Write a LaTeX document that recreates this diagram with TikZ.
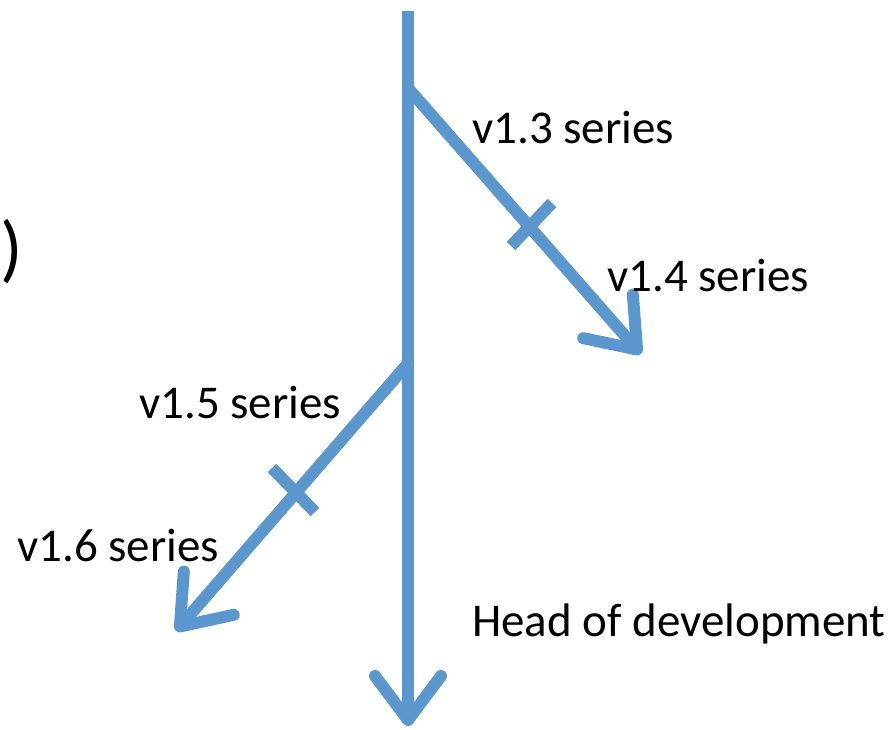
\documentclass[tikz,border=0pt]{standalone}
\usepackage{fontspec}
\setmainfont{Carlito}
\usetikzlibrary{arrows.meta,positioning}
\definecolor{branch}{RGB}{91,150,204}

\begin{document}
\begin{tikzpicture}[x=1pt, y=-1pt,
    line/.style={draw=branch, line width=12pt},
    arr/.style={line, -{Straight Barb[length=44pt, width=66pt, round]}},
    lbl/.style={anchor=west, inner sep=0pt, font=\fontsize{47}{52}\selectfont}]
      \useasboundingbox (0,0) rectangle (894,730);

      % trunk and forks
      \coordinate (top)   at (408,11);
      \coordinate (head)  at (408,726);
      \coordinate (fork1) at (407,87);
      \coordinate (end1)  at (641,354);
      \coordinate (fork2) at (410,361);
      \coordinate (end2)  at (176,631);

      % release ticks
      \coordinate (t1a) at (511,246);
      \coordinate (t1b) at (552,203);
      \coordinate (t2a) at (272,468);
      \coordinate (t2b) at (315,512);

      \path[arr] (top) -- (head);
      \path[arr] (fork1) -- (end1);
      \path[arr] (fork2) -- (end2);
      \path[line] (t1a) -- (t1b);
      \path[line] (t2a) -- (t2b);

      \node (v13)  [lbl] at (472,128) {v1.3 series};
      \node (v14)  [lbl] at (607,276) {v1.4 series};
      \node (v15)  [lbl] at (139,403) {v1.5 series};
      \node (v16)  [lbl] at (17,546)  {v1.6 series};
      \node (dev)  [lbl] at (472,624) {Head of development};
      \node (par)  [lbl, font=\fontsize{74}{80}\selectfont] at (0,252) {)};
    \end{tikzpicture}
\end{document}
